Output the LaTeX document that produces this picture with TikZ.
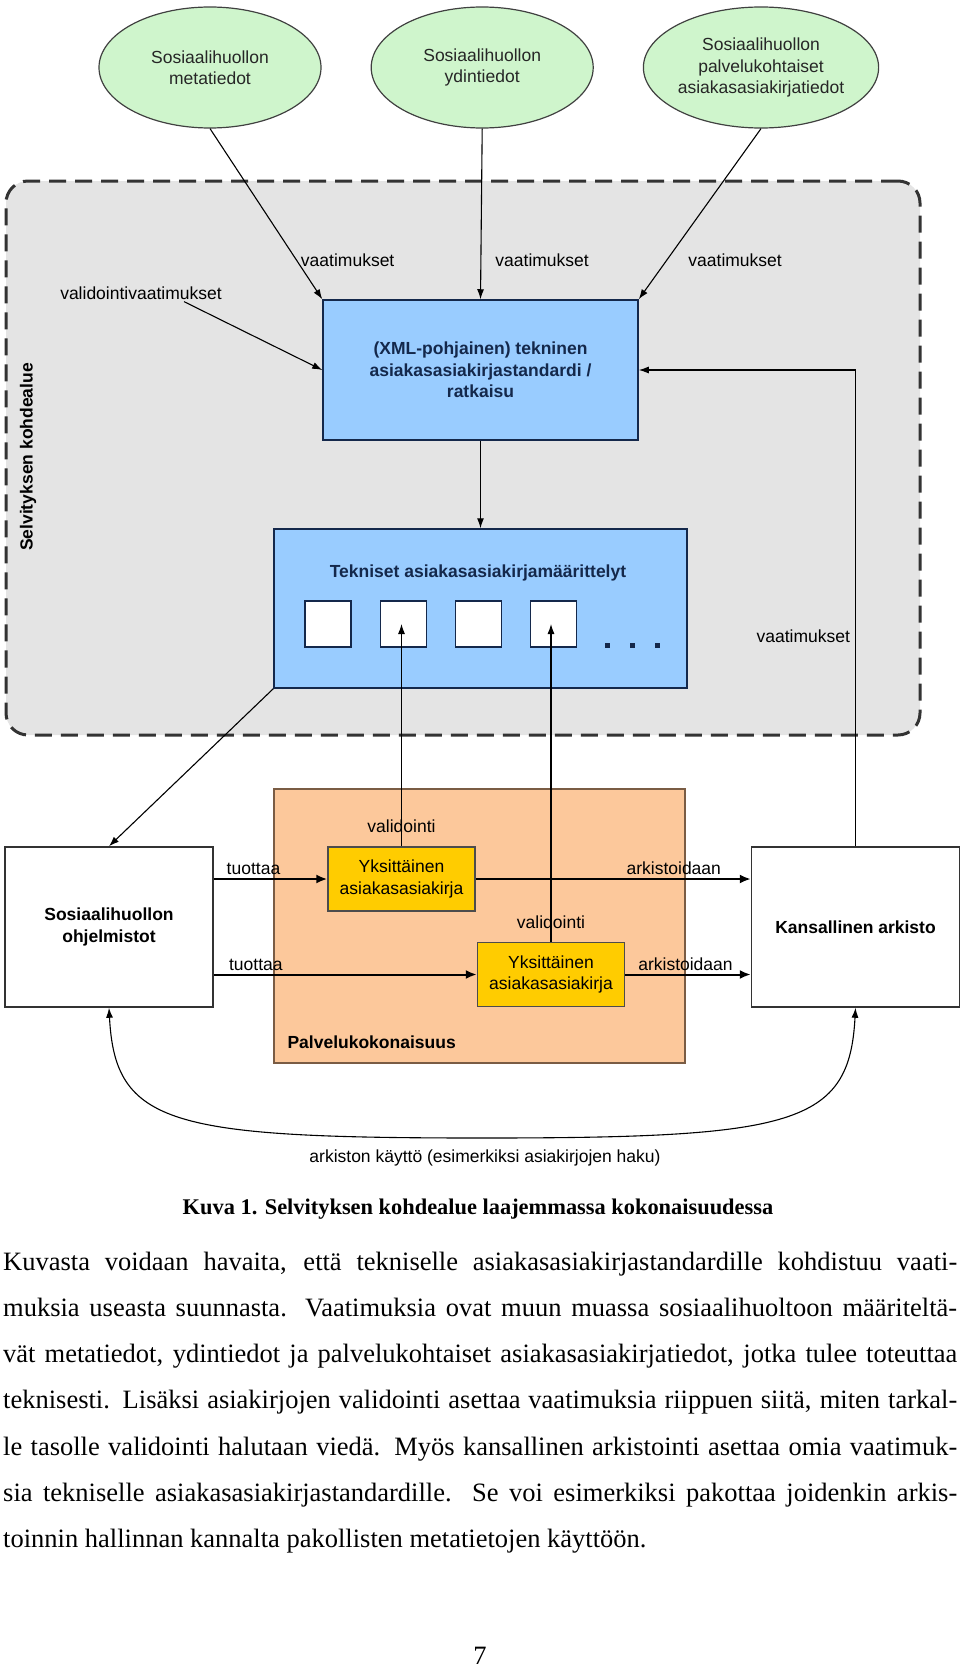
\documentclass[tikz,border=0pt]{standalone}
\usepackage{fontspec}
\setmainfont{Liberation Serif}
\setsansfont{Liberation Sans}
\usepackage{tikz}
\usepackage{xcolor}
\usetikzlibrary{shapes.geometric, arrows.meta, positioning, calc}
\definecolor{regiongray}{HTML}{E4E4E4}
\definecolor{ellgreen}{HTML}{CFF5CC}
\definecolor{boxblue}{HTML}{99CCFF}
\definecolor{navytext}{HTML}{14284B}
\definecolor{servorange}{HTML}{FCC89B}
\definecolor{servedge}{HTML}{7A5C44}
\definecolor{docyellow}{HTML}{FFCC00}
\newcommand{\dfont}{\sffamily\fontsize{17.5}{21.5}\selectfont}
\tikzstyle{region} = [rectangle, rounded corners=22pt, draw=black!80, line width=3pt, dash pattern=on 17pt off 9pt, fill=regiongray]
\tikzstyle{source} = [ellipse, draw=black!75, line width=1.2pt, fill=ellgreen, minimum width=222pt, minimum height=121pt, inner sep=0pt, align=center, font=\dfont, text=black!85]
\tikzstyle{techbox} = [rectangle, draw=navytext, line width=1.5pt, fill=boxblue, align=center, font=\dfont\bfseries, text=navytext]
\tikzstyle{slot} = [rectangle, draw=navytext, line width=1.2pt, fill=white, minimum width=46pt, minimum height=46pt, inner sep=0pt]
\tikzstyle{system} = [rectangle, draw=black!80, line width=1.5pt, fill=white, minimum width=208pt, minimum height=160pt, align=center, font=\dfont\bfseries]
\tikzstyle{docbox} = [rectangle, draw=black!70, line width=1.5pt, fill=docyellow, minimum width=147pt, minimum height=64pt, align=center, font=\dfont]
\tikzstyle{lbl} = [font=\dfont, inner sep=2pt]
\tikzstyle{arrow} = [line width=1.1pt, -{Latex[length=10pt,width=7pt]}]
\tikzstyle{twoway} = [line width=1.1pt, {Latex[length=10pt,width=7pt]}-{Latex[length=10pt,width=7pt]}]
\tikzstyle{flow} = [line width=2pt, -{Latex[length=11pt,width=9pt]}]
\begin{document}
\begin{tikzpicture}[x=1pt, y=-1pt]
    \useasboundingbox (0,0) rectangle (960,1667);

    \node (area) [region, minimum width=914pt, minimum height=554pt] at (463,458) {};
    \node (arealabel) [rotate=90, font=\dfont\bfseries] at (28,457) {Selvityksen kohdealue};

    \node (meta) [source] at (210,67.5) {Sosiaalihuollon\\metatiedot};
    \node (core) [source, right=49pt of meta] {Sosiaalihuollon\\ydintiedot};
    \node (service) [source, right=49pt of core] {Sosiaalihuollon\\palvelukohtaiset\\asiakasasiakirjatiedot};

    \node (xml) [techbox, minimum width=315pt, minimum height=140pt] at (480.5,370) {(XML-pohjainen) tekninen\\asiakasasiakirjastandardi /\\ratkaisu};
    \node (valreq) [lbl] at (141,293) {validointivaatimukset};

    \node (specs) [techbox, minimum width=413pt, minimum height=159pt] at (480.5,608.5) {};
    \node (specstitle) [font=\dfont\bfseries, text=navytext] at (478,573) {Tekniset asiakasasiakirjamäärittelyt};
    \node (slot1) [slot] at (328,624) {};
    \node (slot2) [slot, right=28pt of slot1] {};
    \node (slot3) [slot, right=28pt of slot2] {};
    \node (slot4) [slot, right=28pt of slot3] {};
    \foreach \x in {607,632,657}
        \fill[navytext] (\x-2.5,642.5) rectangle ++(5,5);

    \node (palvelu) [rectangle, draw=servedge, line width=1.5pt, fill=servorange, minimum width=411pt, minimum height=274pt] at (479.5,926) {};
    \node (palvelulabel) [font=\dfont\bfseries, anchor=west] at (284,1042) {Palvelukokonaisuus};
    \node (doc1) [docbox] at (401.5,879) {Yksittäinen\\asiakasasiakirja};
    \node (doc2) [docbox] at (551,974.5) {Yksittäinen\\asiakasasiakirja};

    \node (software) [system] at (109,927) {Sosiaalihuollon\\ohjelmistot};
    \node (archive) [system] at (855.5,927) {Kansallinen arkisto};
    \coordinate (usebottom) at (482,1138);
    \node (usage) [lbl] at (485,1158) {arkiston käyttö (esimerkiksi asiakirjojen haku)};

    \draw [arrow] (meta.south) -- (xml.north west) node[pos=0.77, right=2pt, lbl] {vaatimukset};
    \draw [arrow] (core.south) -- (xml.north) node[pos=0.77, right=12pt, lbl] {vaatimukset};
    \draw [arrow] (service.south) -- (xml.north east) node[pos=0.77, right=19pt, lbl] {vaatimukset};
    \draw [arrow] ([xshift=43pt]valreq.south) -- (xml.west);
    \draw [arrow] (archive.north) |- (xml.east) node[pos=0.22, left=3pt, lbl] {vaatimukset};
    \draw [arrow] (xml) -- (specs);
    \draw [arrow] (specs.south west) -- (software.north);

    \draw [flow] (software.east |- doc1.west) -- (doc1.west) node[pos=0.35, above=1pt, lbl] {tuottaa};
    \draw [flow] (doc1.east) -- (archive.west |- doc1.east) node[pos=0.72, above=1pt, lbl] {arkistoidaan};
    \draw [flow] (software.east |- doc2.west) -- (doc2.west) node[pos=0.16, above=1pt, lbl] {tuottaa};
    \draw [flow] (doc2.east) -- (archive.west |- doc2.east) node[pos=0.48, above=1pt, lbl] {arkistoidaan};
    \draw [arrow] (doc1.north) -- (doc1.north |- slot2.center) node[pos=0.09, lbl] {validointi};
    \draw [arrow] (doc2.north) -- (doc2.north |- slot4.center) node[pos=0.06, lbl] {validointi};

    \draw [twoway] (software.south) .. controls (115,1125) and (170,1138) .. (usebottom) .. controls (794.5,1138) and (849.5,1125) .. (archive.south);

    \node (caption) [anchor=base, font=\fontsize{22.4}{27}\selectfont\bfseries] at (478,1214) {Kuva 1. Selvityksen kohdealue laajemmassa kokonaisuudessa};
    \node (para) [anchor=base west, text width=954pt, inner sep=0pt, align=justify, font=\fontsize{26.5}{46.3}\selectfont] at (3,1270) {\tolerance=9999\hyphenpenalty=10000\emergencystretch=2em
        Kuvasta voidaan havaita, että tekniselle asiakasasiakirjastandardille kohdistuu vaati-\linebreak
        muksia useasta suunnasta. Vaatimuksia ovat muun muassa sosiaalihuoltoon määriteltä-\linebreak
        vät metatiedot, ydintiedot ja palvelukohtaiset asiakasasiakirjatiedot, jotka tulee toteuttaa\linebreak
        teknisesti. Lisäksi asiakirjojen validointi asettaa vaatimuksia riippuen siitä, miten tarkal-\linebreak
        le tasolle validointi halutaan viedä. Myös kansallinen arkistointi asettaa omia vaatimuk-\linebreak
        sia tekniselle asiakasasiakirjastandardille. Se voi esimerkiksi pakottaa joidenkin arkis-\linebreak
        toinnin hallinnan kannalta pakollisten metatietojen käyttöön.};
    \node (pagenum) [anchor=base, font=\fontsize{26.5}{30}\selectfont] at (480,1664) {7};
\end{tikzpicture}
\end{document}
